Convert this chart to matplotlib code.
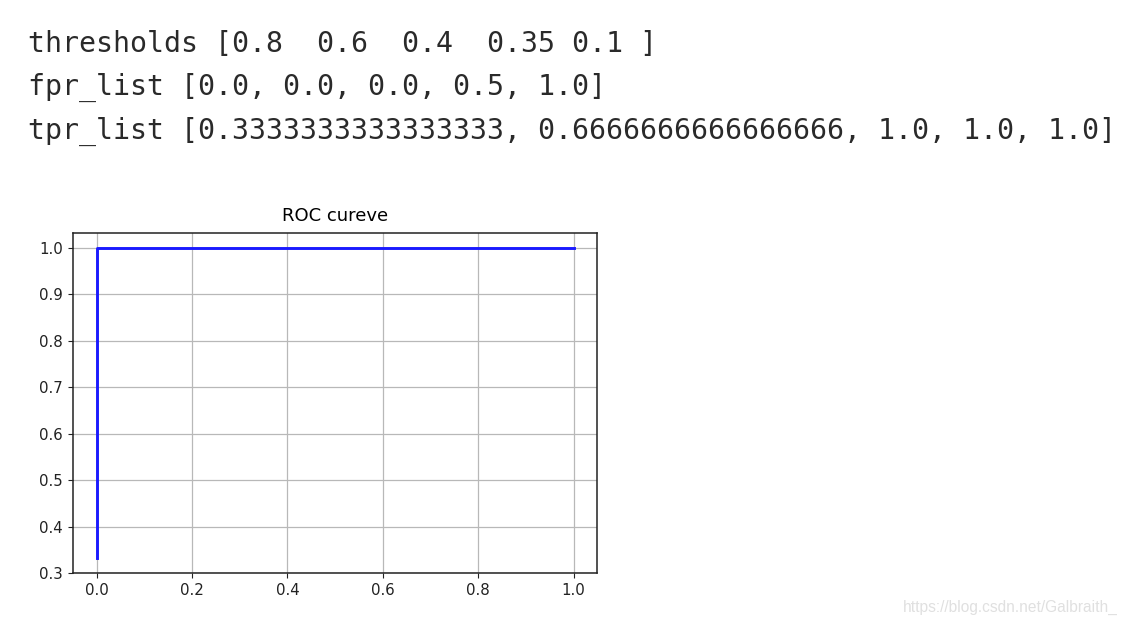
import numpy as np
import matplotlib
matplotlib.use('Agg')
import matplotlib.pyplot as plt

# values printed above the chart and used for the curve
thresholds = [0.8, 0.6, 0.4, 0.35, 0.1]
fpr_list = [0.0, 0.0, 0.0, 0.5, 1.0]
tpr_list = [0.3333333333333333, 0.6666666666666666, 1.0, 1.0, 1.0]
title = 'ROC cureve'
watermark = 'https://blog.csdn.net/Galbraith_'

W, H = 1127, 625
fig = plt.figure(figsize=(W / 100, H / 100), dpi=100)
fig.patch.set_facecolor('white')

# printed output lines
lines = [
    'thresholds ' + str(np.array(thresholds)),
    'fpr_list ' + str(fpr_list),
    'tpr_list ' + str(tpr_list),
]
for i, s in enumerate(lines):
    fig.text(28 / W, 1 - (44 + i * 43.5) / H, s, fontsize=20.3,
             family='DejaVu Sans Mono', color='#2a2a2a', va='center', ha='left')

# the chart (pixel box: left 72.7, right 597.5, top 232.5, bottom 573)
ax = fig.add_axes([72.7 / W, 1 - 573 / H, (597.5 - 72.7) / W, (573 - 232.5) / H])
ax.plot(fpr_list, tpr_list, color='#1a1aff', linewidth=2.1)
ax.set_title(title, fontsize=13, pad=8)
ax.grid(True, color='#b8b8b8', linewidth=0.9)
ax.set_xticks(np.arange(0, 1.01, 0.2))
ax.set_yticks(np.arange(0.3, 1.01, 0.1))
ax.tick_params(labelsize=10.8, colors='#222222')
for sp in ax.spines.values():
    sp.set_linewidth(1.1)
    sp.set_color('#222222')

fig.text(1118 / W, 1 - 607 / H, watermark, fontsize=11.2, family='Liberation Sans',
         color='#e0e0e0', ha='right', va='center')

fig.savefig('out.png', dpi=100)
